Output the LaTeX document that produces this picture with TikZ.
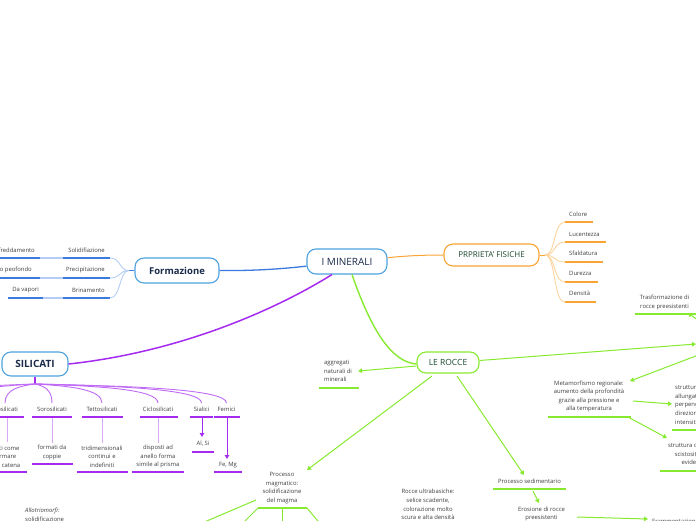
\documentclass[tikz,border=0pt]{standalone}
\usepackage{fontspec}
\setmainfont{Open Sans}
\usetikzlibrary{arrows.meta}
\definecolor{blueL}{HTML}{3B7BE0}
\definecolor{blueB}{HTML}{4EA2DE}
\definecolor{blueP}{HTML}{B4CDF4}
\definecolor{orL}{HTML}{F8A535}
\definecolor{orP}{HTML}{FCD59E}
\definecolor{puL}{HTML}{A52BF0}
\definecolor{puP}{HTML}{DBA8F8}
\definecolor{grL}{HTML}{88EA30}
\definecolor{txt}{HTML}{404040}
\definecolor{navy}{HTML}{1A2B4B}
\definecolor{dgreen}{HTML}{1C4A30}
\tikzset{
  topic/.style={draw, fill=white, rounded corners=9pt, line width=1.1pt, inner sep=0pt},
  lbl/.style={font=\fontsize{5.9}{8.6}\selectfont, text=txt, inner sep=0pt, align=center},
  blueU/.style={blueL, line width=1.6pt},
  blueC/.style={blueP, line width=0.9pt},
  orU/.style={orL, line width=1.6pt},
  orC/.style={orP, line width=0.9pt},
  puU/.style={puL, line width=1.6pt},
  puC/.style={puL!70, line width=0.9pt},
  puV/.style={puP, line width=1pt},
  parrow/.style={puL, line width=1pt, -{Triangle[length=4pt,width=4.5pt]}},
  gline/.style={grL, line width=1pt},
  garrow/.style={grL, line width=1pt, -{Triangle[length=4pt,width=4.5pt]}},
  gU/.style={grL, line width=1.6pt}
}
\begin{document}
\begin{tikzpicture}[x=1pt,y=-1pt]
\useasboundingbox (0,0) rectangle (696,520);
\clip (0,0) rectangle (696,520);
\fill[white] (0,0) rectangle (696,520);

% main topics
\node[topic, draw=blueB, text=navy, font=\fontsize{10}{12}\selectfont, minimum width=80pt, minimum height=25pt] (imin) at (347,261.5) {I MINERALI};
\node[topic, draw=orL, text=dgreen, font=\fontsize{8}{10}\selectfont, minimum width=95pt, minimum height=22pt] (prop) at (491.5,255) {PRPRIETA' FISICHE};
\node[topic, draw=blueB, text=navy, font=\fontsize{9.5}{12}\selectfont\bfseries, minimum width=84pt, minimum height=25pt] (form) at (177,270.5) {Formazione};
\node[topic, draw=blueB, text=navy, font=\fontsize{10}{12}\selectfont\bfseries, minimum width=66pt, minimum height=24pt] (sil) at (35,364) {SILICATI};
\node[topic, draw=grL, text=dgreen, font=\fontsize{8.5}{10}\selectfont, minimum width=62pt, minimum height=21pt] (roc) at (448,362.5) {LE ROCCE};

% main connectors
\draw[blueL, line width=1.3pt] (form.east) .. controls (260,271) and (290,268) .. (imin);
\draw[orL, line width=1pt] (imin) .. controls (405,256) and (420,255) .. (prop.west);
\draw[puL, line width=1.5pt] (sil.east) .. controls (180,352) and (275,310) .. ([xshift=-15pt]imin.south);
\draw[grL, line width=1.4pt] ([xshift=5pt]imin.south) .. controls (372,332) and (392,362) .. ([yshift=-1.5pt]roc.west);

% PROPRIETA' FISICHE
\coordinate (ost) at (545,255);
\draw[orL, line width=1pt] (prop.east) -- (ost);
\node[lbl, anchor=west] (ocol) at (569,214) {Colore};
\node[lbl, anchor=west] (oluc) at (569,234) {Lucentezza};
\node[lbl, anchor=west] (osfa) at (569,253.5) {Sfaldatura};
\node[lbl, anchor=west] (odur) at (569,273.5) {Durezza};
\node[lbl, anchor=west] (oden) at (569,293.5) {Densità};
\draw[orU] (565,222) -- (593,222);
\draw[orU] (565,242) -- (606,242);
\draw[orU] (565,262) -- (603,262);
\draw[orU] (565,282) -- (598,282);
\draw[orU] (565,302) -- (596,302);
\draw[orC] (ost) .. controls (556,255) and (553,222) .. (565,222);
\draw[orC] (ost) .. controls (556,255) and (553,242) .. (565,242);
\draw[orC] (ost) .. controls (556,255) and (553,262) .. (565,262);
\draw[orC] (ost) .. controls (556,255) and (553,282) .. (565,282);
\draw[orC] (ost) .. controls (556,255) and (553,302) .. (565,302);

% FORMAZIONE
\coordinate (fst) at (129,270.5);
\draw[blueL, line width=1pt] (form.west) -- (fst);
\node[lbl, anchor=east] (fsol) at (105,250) {Solidifiazione};
\node[lbl, anchor=east] (fpre) at (105,270) {Precipitazione};
\node[lbl, anchor=east] (fbri) at (105,290) {Brinamento};
\draw[blueU] (63,258) -- (110,258);
\draw[blueU] (63,278) -- (110,278);
\draw[blueU] (63,298) -- (110,298);
\draw[blueC] (fst) .. controls (119,270.5) and (121,258) .. (110,258);
\draw[blueC] (fst) .. controls (119,270.5) and (121,278) .. (110,278);
\draw[blueC] (fst) .. controls (119,270.5) and (121,298) .. (110,298);
\node[lbl, anchor=east] (fraf) at (35,250) {Raffreddamento};
\node[lbl, anchor=east] (fprof) at (32,270) {Raffreddamento peofondo};
\node[lbl, anchor=east] (fvap) at (39,290) {Da vapori};
\draw[blueU] (-40,258) -- (40,258);
\draw[blueU] (-40,278) -- (40,278);
\draw[blueU] (8,298) -- (43,298);
\draw[blueP, line width=1.6pt] (40,258) -- (63,258);
\draw[blueP, line width=1.6pt] (40,278) -- (63,278);
\draw[blueP, line width=1.6pt] (43,298) -- (63,298);

% SILICATI
\coordinate (sst) at (35,384);
\draw[puL, line width=1.6pt] (sil.south) -- (sst);
\node[lbl] (sino) at (5,409) {Inosilicati};
\node[lbl] (ssor) at (52,409) {Sorosilicati};
\node[lbl] (stet) at (102,409) {Tettosilicati};
\node[lbl] (scic) at (158,409) {Ciclosilicati};
\node[lbl] (ssia) at (201.5,409) {Sialici};
\node[lbl] (sfem) at (226.5,409) {Femici};
\foreach \cx in {-85,-40,5,52,102,158,201.5,226.5}{
  \draw[puC] (sst) .. controls ({(35+\cx)/2},386) and (\cx,389) .. (\cx,403);
}
\draw[puU] (-20,417) -- (24,417);
\draw[puU] (32,417) -- (72,417);
\draw[puU] (82,417) -- (123,417);
\draw[puU] (140,417) -- (178,417);
\draw[puU] (190,417) -- (213,417);
\draw[puU] (214,417) -- (240,417);
\node[lbl] (dino) at (5,456.5) {uniti come\\formare\\una catena};
\node[lbl] (dsor) at (52,452.5) {formati da\\coppie};
\node[lbl] (dtet) at (102,456.5) {tridimensionali\\continui e\\indefiniti};
\node[lbl] (dcic) at (158,456.5) {disposti ad\\anello forma\\simile al prisma};
\node[lbl] (dsia) at (203,444) {Al, Si};
\node[lbl] (dfem) at (228,465) {Fe, Mg};
\draw[puV] (7,418) -- (7,442);
\draw[puV] (52,418) -- (52,443);
\draw[puV] (102,418) -- (102,443);
\draw[puV] (158,418) -- (158,443);
\draw[parrow] (202,418) -- (202,437);
\draw[parrow] (227,418) -- (227,459);
\draw[puU] (-25,472) -- (27,472);
\draw[puU] (32,464) -- (73,464);
\draw[puU] (77,472) -- (128,472);
\draw[puU] (132,472) -- (184,472);
\draw[puU] (192,452) -- (214,452);
\draw[puU] (214,472) -- (242,472);

% LE ROCCE
\node[lbl, align=left] (agg) at (338,371) {aggregati\\naturali di\\minerali};
\draw[gU] (319,388) -- (359,388);
\draw[garrow] ([yshift=-3.5pt]roc.west) -- ([xshift=6pt]agg.east);

\node[lbl] (magm) at (282,488) {Processo\\magmatico:\\solidificazione\\del magma};
\draw[gU] (258,508) -- (307,508);
\coordinate (magIn) at (307,470);
\draw[garrow] (432,376) -- (magIn);
\coordinate (mg1) at (195,526);
\coordinate (mg2) at (240,526);
\coordinate (mg3) at (282,526);
\coordinate (mg4) at (322,526);
\draw[gline] (256,500) -- (mg1);
\draw[gline] (258,508) -- (mg2);
\draw[gline] (282,508) -- (mg3);
\draw[gline] (307,508) -- (mg4);

\node[lbl] (sedi) at (529.5,481) {Processo sedimentario};
\draw[gU] (493,489) -- (566,489);
\coordinate (sedIn) at (524,475);
\draw[garrow] (457,376) -- (sedIn);
\node[lbl] (eros) at (541.5,514) {Erosione di rocce\\preesistenti};
\draw[garrow] (533,491) -- (539,503);
\node[lbl, anchor=west] (fram) at (652,521.5) {Frammentazione};
\draw[garrow] (577,517) -- (648,519);

\node[lbl] (ultra) at (428,504.5) {Rocce ultrabasiche:\\selice scadente,\\colorazione molto\\scura e alta densità};

\node[lbl, align=left, anchor=west] (allo) at (25,515) {{\itshape Allotriomorfi:}\\solidificazione};

% metamorfico (off the right edge)
\coordinate (metaW) at (696,344);
\coordinate (metaC) at (730,343);
\draw[garrow] ([yshift=2pt]roc.east) -- (metaW);
\node[lbl] (tras) at (664.5,302.5) {Trasformazione di\\rocce preesistenti};
\draw[gU] (635,314) -- (700,314);
\coordinate (trasIn) at (688,313);
\draw[garrow] (metaC) -- (trasIn);

\node[lbl] (metr) at (589,396.5) {Metamorfismo regionale:\\aumento della profondità\\grazie alla pressione e\\alla temperatura};
\draw[gU] (548,417) -- (631,417);
\coordinate (metrIn) at (630,381);
\draw[garrow] (metaC) -- (metrIn);

\node[lbl, align=left, anchor=west] (str1) at (675,405) {struttura\\allungata\\perpendicolare\\direzione di\\intensità};
\draw[gU] (672,430) -- (700,430);
\draw[garrow] (633,401) -- (672,404);

\node[lbl] (str2) at (693.5,454) {struttura orientata\\scistosità ben\\evidente};
\draw[gU] (660,471) -- (700,471);
\draw[garrow] (628,417) -- (667,438);
\end{tikzpicture}
\end{document}
